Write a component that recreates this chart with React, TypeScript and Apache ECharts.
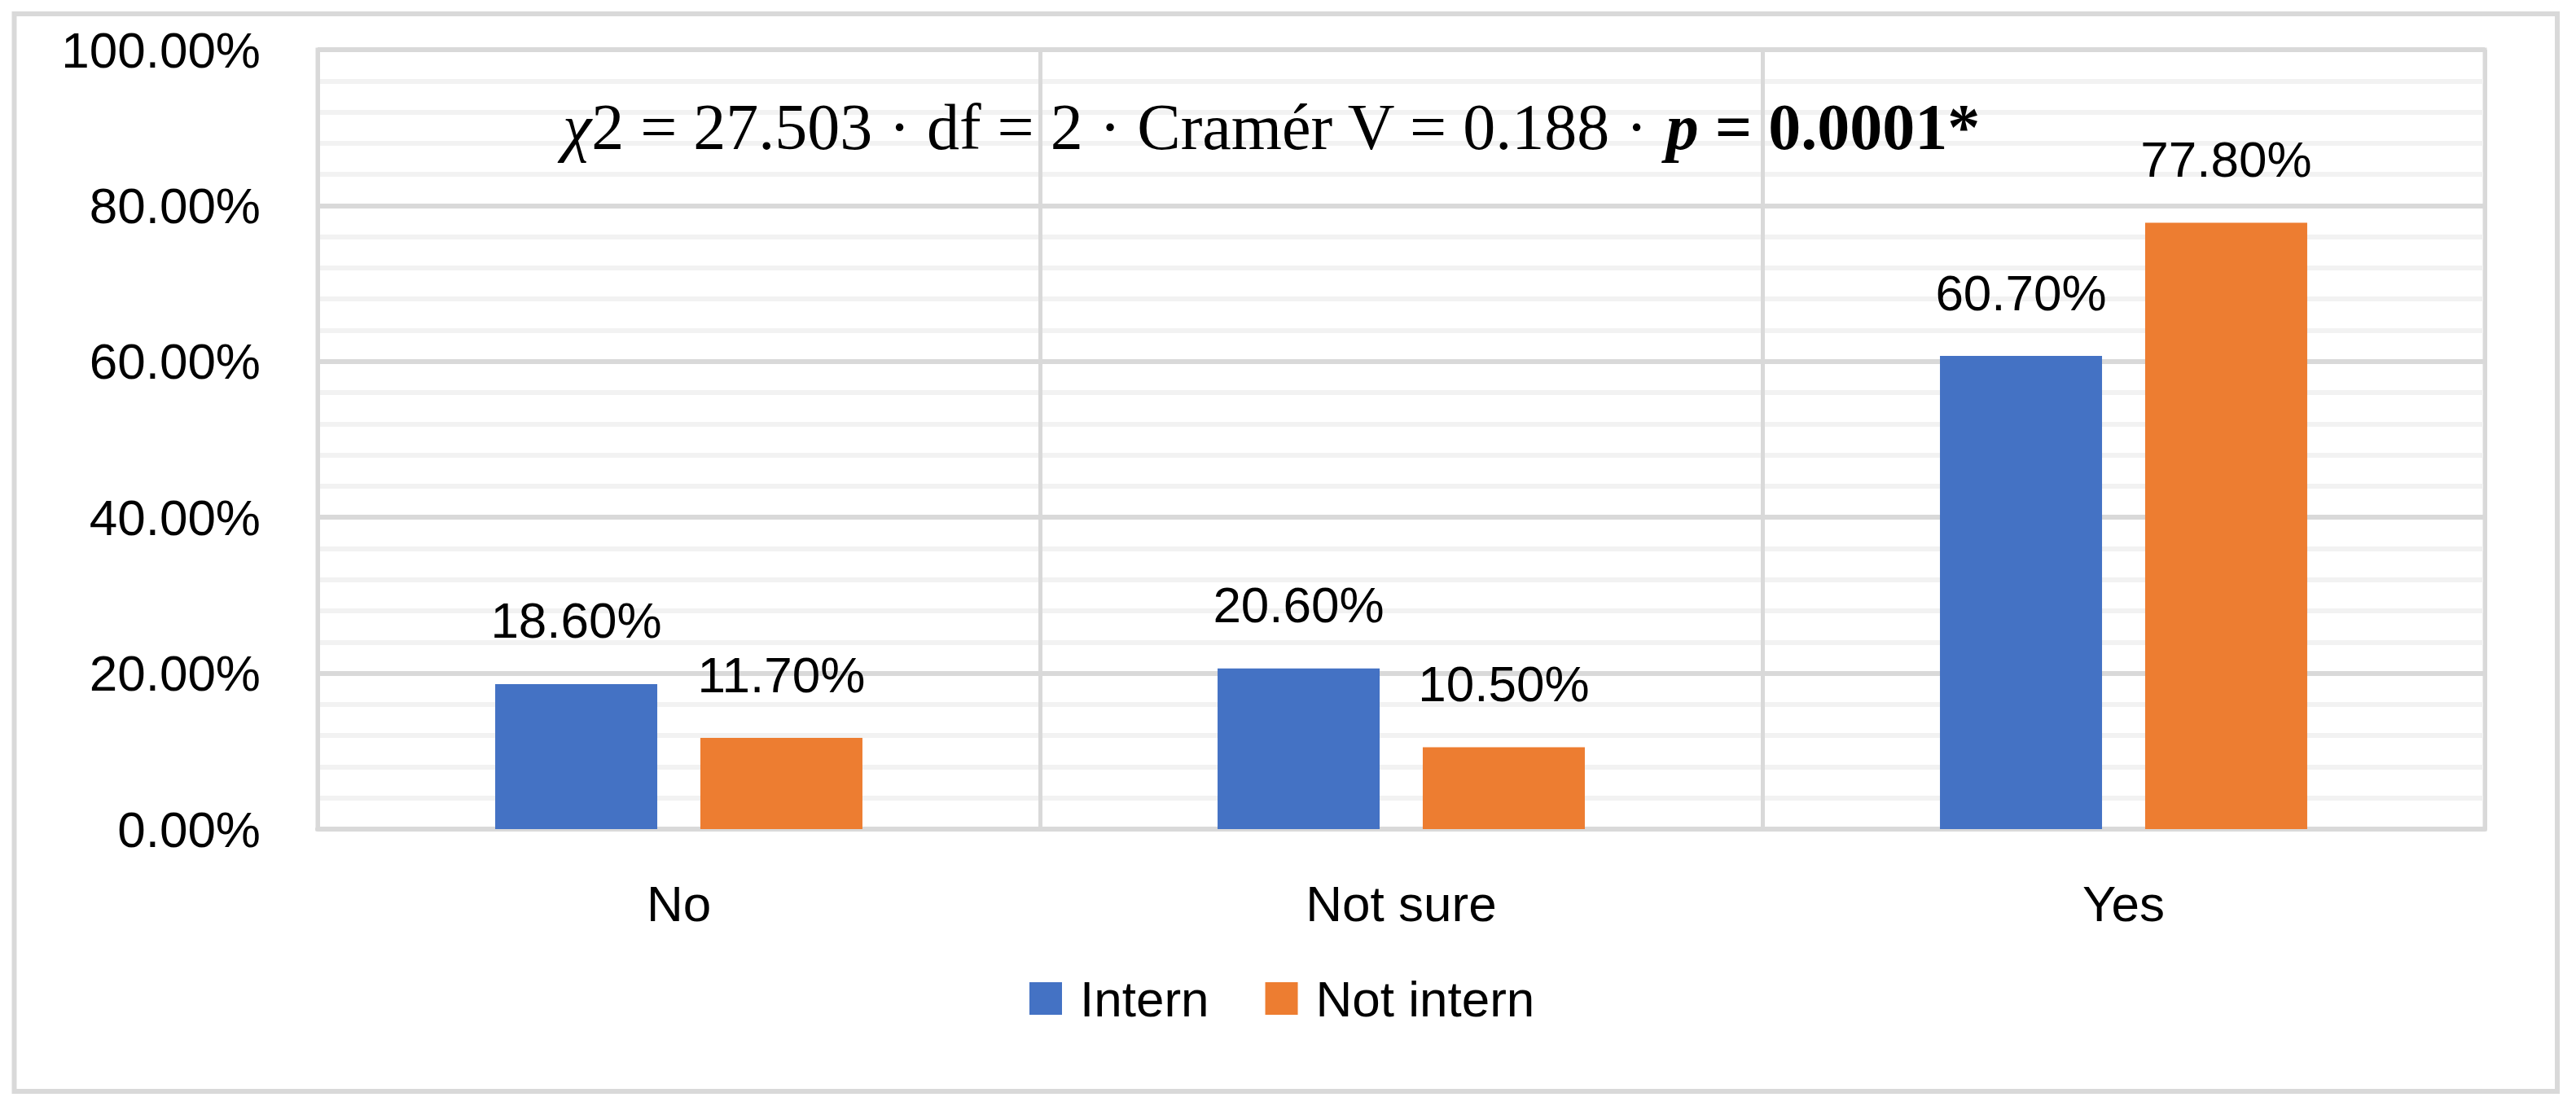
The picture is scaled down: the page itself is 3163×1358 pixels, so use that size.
import React, { useEffect, useRef } from "react";
import * as echarts from "echarts";

const categories = ["No", "Not sure", "Yes"];
const seriesNames = ["Intern", "Not intern"];
const internValues = [18.6, 20.6, 60.7];
const notInternValues = [11.7, 10.5, 77.8];
const colors = ["#4472C4", "#ED7D31"];
const yTicks = { min: 0, max: 100, interval: 20 };
const annotationParts = {
  chi: "χ",
  stats: "2 = 27.503 · df = 2 · Cramér V = 0.188 · ",
  p: "p",
  pValue: " = 0.0001*",
};

const SANS = "Liberation Sans";
const SERIF = "Liberation Serif";
const ANN = 80;

export default function App() {
  const ref = useRef<HTMLDivElement>(null);
  useEffect(() => {
    if (!ref.current) return;
    const chart = echarts.init(ref.current, undefined, { renderer: "svg" });
    const labelStyle = {
      show: true,
      position: "top",
      distance: 47,
      fontFamily: SANS,
      fontSize: 62,
      color: "#000",
      formatter: (p: any) => `${Number(p.value).toFixed(2)}%`,
    };
    chart.setOption({
      animation: false,
      backgroundColor: "#fff",
      color: colors,
      grid: {
        left: 390,
        right: 112,
        top: 61,
        bottom: 340,
        show: true,
        borderColor: "#d9d9d9",
        borderWidth: 5,
      },
      legend: {
        data: seriesNames,
        left: 1264,
        top: 1195,
        padding: 0,
        itemWidth: 40,
        itemHeight: 40,
        itemGap: 69,
        icon: "rect",
        textStyle: {
          fontFamily: SANS,
          fontSize: 62,
          color: "#000",
          padding: [0, 0, 0, 17],
        },
      },
      xAxis: {
        type: "category",
        data: categories,
        axisLine: { show: true, lineStyle: { color: "#d9d9d9", width: 6 } },
        axisTick: { show: false },
        splitLine: { show: true, interval: 0, lineStyle: { color: "#d9d9d9", width: 5 } },
        axisLabel: { fontFamily: SANS, fontSize: 62, color: "#000", margin: 60 },
      },
      yAxis: {
        type: "value",
        min: yTicks.min,
        max: yTicks.max,
        interval: yTicks.interval,
        axisLine: { show: false },
        axisTick: { show: false },
        splitLine: { show: true, lineStyle: { color: "#d9d9d9", width: 6 } },
        minorTick: { show: false, splitNumber: 5 },
        minorSplitLine: { show: true, lineStyle: { color: "#f2f2f2", width: 6 } },
        axisLabel: {
          fontFamily: SANS,
          fontSize: 62,
          color: "#000",
          margin: 70,
          formatter: (v: number) => `${v.toFixed(2)}%`,
        },
      },
      series: [
        {
          name: seriesNames[0],
          type: "bar",
          data: internValues,
          barWidth: 199,
          barGap: "26.6%",
          label: labelStyle,
          z: 3,
        },
        {
          name: seriesNames[1],
          type: "bar",
          data: notInternValues,
          barWidth: 199,
          barGap: "26.6%",
          label: labelStyle,
          z: 3,
        },
      ],
      graphic: [
        {
          type: "rect",
          shape: { x: 17.5, y: 17, width: 3122.5, height: 1323 },
          style: { fill: "none", stroke: "#d9d9d9", lineWidth: 6 },
          silent: true,
          z: 100,
        },
        {
          type: "text",
          x: 691,
          y: 156,
          z: 100,
          style: {
            text: `{chi|${annotationParts.chi}}{n|${annotationParts.stats}}{p|${annotationParts.p}}{b|${annotationParts.pValue}}`,
            verticalAlign: "middle",
            align: "left",
            fontFamily: SERIF,
            fontSize: ANN,
            fill: "#000",
            rich: {
              chi: { fontFamily: SERIF, fontSize: ANN, fontStyle: "italic", fill: "#000" },
              n: { fontFamily: SERIF, fontSize: ANN, fill: "#000" },
              p: { fontFamily: SERIF, fontSize: ANN, fontStyle: "italic", fontWeight: "bold", fill: "#000" },
              b: { fontFamily: SERIF, fontSize: ANN, fontWeight: "bold", fill: "#000" },
            },
          },
        },
      ],
    });
    return () => chart.dispose();
  }, []);
  return (
    <div
      ref={ref}
      style={{ position: "fixed", left: 0, top: 0, width: 3163, height: 1358, background: "#fff" }}
    />
  );
}
